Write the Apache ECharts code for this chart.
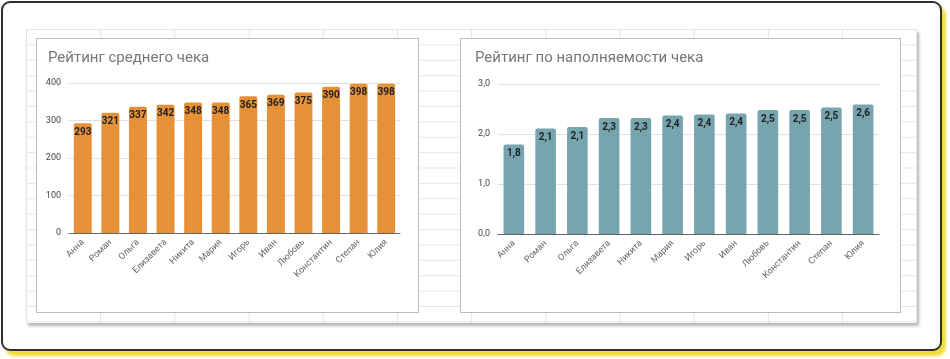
<!DOCTYPE html>
<html><head><meta charset="utf-8">
<script src="https://cdn.jsdelivr.net/npm/echarts@6/dist/echarts.min.js"></script>
<style>
html,body{margin:0;padding:0;background:#fff;width:950px;height:359px;overflow:hidden;font-family:Roboto,sans-serif;}
#frame{position:absolute;left:1px;top:1px;width:937px;height:346px;border:2px solid #2e2e2e;border-radius:9px;box-shadow:4px 5px 3px #f3dc38;background:#fff;}
#sheet{position:absolute;left:26px;top:29px;width:891px;height:294px;background-color:#fff;
background-image:linear-gradient(to right,#e3e3e3 1px,transparent 1px),linear-gradient(to bottom,#e6e6e6 1px,transparent 1px);
background-size:74.2px 15.4px;background-position:0 0;box-shadow:2px 3px 3px #b5b5b5;}
.panel{position:absolute;top:38px;height:273px;background:#fff;border:1px solid #bdbdbd;}
#p1{left:36px;width:381px;}
#p2{left:460px;width:439px;}
#chart{position:absolute;left:0;top:0;width:950px;height:359px;}
</style></head>
<body>
<div id="frame"></div>
<div id="sheet"></div>
<div class="panel" id="p1"></div>
<div class="panel" id="p2"></div>
<div id="chart"></div>
<script>
var names = ['Анна','Роман','Ольга','Елизавета','Никита','Мария','Игорь','Иван','Любовь','Константин','Степан','Юлия'];
var avgCheck = [293,321,337,342,348,348,365,369,375,390,398,398];
var fillRate = [1.79,2.11,2.14,2.32,2.32,2.37,2.39,2.41,2.48,2.48,2.53,2.59];
var title1 = 'Рейтинг среднего чека';
var title2 = 'Рейтинг по наполняемости чека';

var chart = echarts.init(document.getElementById('chart'), null, {renderer:'canvas'});
var fmtComma = function(v){ return Number(v).toFixed(1).replace('.', ','); };
var xCommon = {
  type:'category', data:names,
  axisLine:{lineStyle:{color:'#666',width:1}},
  axisTick:{show:false},
  axisLabel:{rotate:45, interval:0, fontSize:9, color:'#666', margin:8, fontFamily:'Roboto'}
};
var yCommon = {
  type:'value',
  axisLine:{show:false}, axisTick:{show:false},
  splitLine:{lineStyle:{color:'#e0e0e0'}},
  axisLabel:{fontSize:9, color:'#444', margin:8, fontFamily:'Roboto'}
};
var titleStyle = {fontSize:15, fontWeight:'normal', color:'#777', fontFamily:'Roboto'};
chart.setOption({
  backgroundColor:'transparent',
  animation:false,
  title:[
    {text:title1, left:48, top:51, padding:0, textStyle:titleStyle},
    {text:title2, left:475, top:51, padding:0, textStyle:titleStyle}
  ],
  grid:[
    {left:69, width:331, top:83, height:150},
    {left:498, width:381, top:84, height:150}
  ],
  xAxis:[
    Object.assign({}, xCommon, {gridIndex:0}),
    Object.assign({}, xCommon, {gridIndex:1})
  ],
  yAxis:[
    Object.assign({}, yCommon, {gridIndex:0, min:0, max:400, interval:100}),
    Object.assign({}, yCommon, {gridIndex:1, min:0, max:3, interval:1, axisLabel:Object.assign({}, yCommon.axisLabel, {formatter:fmtComma})})
  ],
  series:[
    {type:'bar', xAxisIndex:0, yAxisIndex:0, data:avgCheck, barWidth:'65%',
     itemStyle:{color:'#e69138', borderRadius:[2,2,0,0]},
     label:{show:true, position:'insideTop', distance:4, fontSize:10, fontWeight:'bold', color:'#222', fontFamily:'Roboto'}},
    {type:'bar', xAxisIndex:1, yAxisIndex:1, data:fillRate, barWidth:'65%',
     itemStyle:{color:'#76a5af', borderRadius:[2,2,0,0]},
     label:{show:true, position:'insideTop', distance:4, fontSize:10, fontWeight:'bold', color:'#222', fontFamily:'Roboto',
            formatter:function(p){return fmtComma(p.value);}}}
  ]
});
</script>
</body></html>
